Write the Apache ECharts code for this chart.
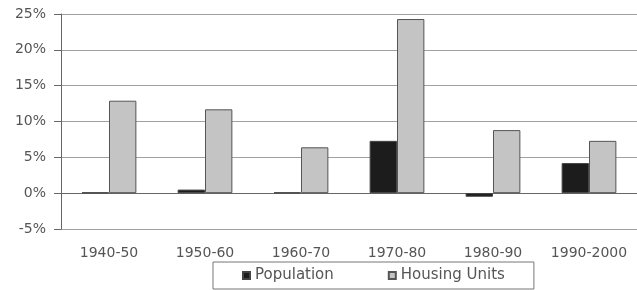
<!DOCTYPE html>
<html>
<head>
    <meta charset="UTF-8">
    <title>Population and Housing Units</title>
    <script src="https://cdn.jsdelivr.net/npm/echarts@6/dist/echarts.min.js"></script>
</head>
<body style="margin:0;background:#fff;">
<div id="chart" style="width:637px;height:290px;"></div>
<script type="text/javascript">
    var decades = ['1940-50', '1950-60', '1960-70', '1970-80', '1980-90', '1990-2000'];
    var population = [0.1, 0.5, 0.1, 7.3, -0.5, 4.2];
    var housingUnits = [12.9, 11.7, 6.4, 24.3, 8.8, 7.3];

    var myChart = echarts.init(document.getElementById('chart'));

    myChart.setOption({
        animation: false,
        textStyle: {fontFamily: 'DejaVu Sans'},
        grid: {left: 61, right: 0, top: 14, bottom: 61},
        legend: {
            data: ['Population', 'Housing Units'],
            left: 213,
            top: 262,
            padding: [6, 29, 6, 29],
            itemGap: 54,
            itemWidth: 7,
            itemHeight: 7,
            icon: 'rect',
            borderColor: '#777',
            borderWidth: 1,
            textStyle: {color: '#555', fontSize: 15, fontFamily: 'DejaVu Sans'}
        },
        xAxis: {
            type: 'category',
            data: decades,
            axisLine: {onZero: true, lineStyle: {color: '#666'}},
            axisTick: {length: 4, lineStyle: {color: '#666'}},
            axisLabel: {color: '#555', fontSize: 14, margin: 17, interval: 0}
        },
        yAxis: {
            type: 'value',
            min: -5,
            max: 25,
            interval: 5,
            axisLine: {show: true, lineStyle: {color: '#666'}},
            axisTick: {show: true, length: 7, lineStyle: {color: '#666'}},
            axisLabel: {color: '#555', fontSize: 14, margin: 15, formatter: '{value}%'},
            splitLine: {lineStyle: {color: '#a0a0a0', width: 1}}
        },
        series: [
            {
                name: 'Population',
                type: 'bar',
                data: population,
                barGap: '0%',
                barCategoryGap: '43%',
                itemStyle: {color: '#1c1c1c', borderColor: '#444', borderWidth: 1}
            },
            {
                name: 'Housing Units',
                type: 'bar',
                data: housingUnits,
                itemStyle: {color: '#c4c4c4', borderColor: '#555', borderWidth: 1}
            }
        ]
    });
</script>
</body>
</html>
